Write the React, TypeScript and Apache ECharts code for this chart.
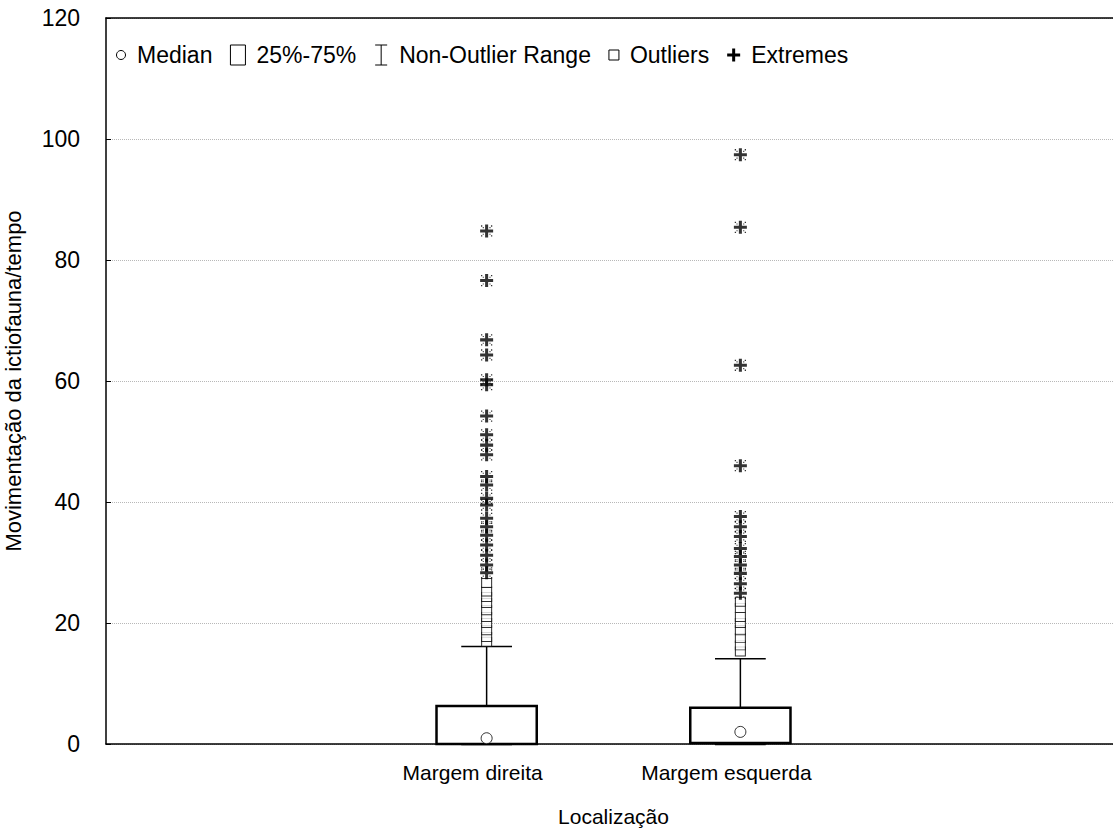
import React, { useEffect, useRef } from "react";
import * as echarts from "echarts";

const categories = ["", "Margem direita", "Margem esquerda", ""];
const yTicks = [0, 20, 40, 60, 80, 100, 120];
const lowWhisker = [0, 0];
const q1 = [0, 0.15];
const median = [0.95, 2.0];
const q3 = [6.3, 6.0];
const highWhisker = [16.1, 14.1];
const outliersDireita = [16.9, 17.7, 18.8, 20.0, 21.0, 22.1, 23.3, 24.3, 25.2, 26.6];
const extremesDireita = [28.3, 29.6, 31.2, 32.9, 34.5, 35.9, 37.3, 39.5, 40.6, 42.8, 44.2, 47.8, 49.4, 51.1, 54.2, 59.4, 60.2, 64.3, 66.8, 76.6, 84.8];
const outliersEsquerda = [15.3, 16.3, 17.5, 18.8, 20.0, 21.0, 22.5, 23.5];
const extremesEsquerda = [24.9, 26.5, 28.2, 29.6, 31.0, 32.3, 34.3, 35.9, 37.6, 46.0, 62.6, 85.4, 97.4];
const legendItems = ["Median", "25%-75%", "Non-Outlier Range", "Outliers", "Extremes"];

const FONT = '"Liberation Sans", Arial, sans-serif';
const STAR =
  "path://M4.6,0h2.8v4.6h4.6v2.8h-4.6v4.6h-2.8v-4.6h-4.6v-2.8h4.6z M0.8,0.8h1.2v1.2h-1.2z M10,0.8h1.2v1.2h-1.2z M0.8,10h1.2v1.2h-1.2z M10,10h1.2v1.2h-1.2z M2.4,2.4h1v1h-1z M8.6,2.4h1v1h-1z M2.4,8.6h1v1h-1z M8.6,8.6h1v1h-1z";

function measure(text: string, size: number): number {
  const c = document.createElement("canvas").getContext("2d");
  if (!c) return text.length * size * 0.5;
  c.font = `${size}px ${FONT}`;
  return c.measureText(text).width;
}

function buildLegend(): any[] {
  const fs = 23;
  const cy = 55;
  let x = 116;
  const els: any[] = [];
  const symW = [10, 15, 14, 10, 13];
  legendItems.forEach((label, i) => {
    const w = symW[i];
    if (i === 0) {
      els.push({ type: "circle", shape: { cx: x + 5, cy, r: 4.5 }, style: { fill: "#fff", stroke: "#000", lineWidth: 1 } });
    } else if (i === 1) {
      els.push({ type: "rect", shape: { x, y: cy - 10, width: 15, height: 20 }, style: { fill: "#fff", stroke: "#000", lineWidth: 1 } });
    } else if (i === 2) {
      els.push({ type: "line", shape: { x1: x + 7, y1: cy - 10, x2: x + 7, y2: cy + 10 }, style: { stroke: "#000", lineWidth: 1 } });
      els.push({ type: "line", shape: { x1: x + 1, y1: cy - 10, x2: x + 13, y2: cy - 10 }, style: { stroke: "#000", lineWidth: 1 } });
      els.push({ type: "line", shape: { x1: x + 1, y1: cy + 10, x2: x + 13, y2: cy + 10 }, style: { stroke: "#000", lineWidth: 1 } });
    } else if (i === 3) {
      els.push({ type: "rect", shape: { x, y: cy - 5, width: 10, height: 10 }, style: { fill: "#fff", stroke: "#000", lineWidth: 1 } });
    } else {
      els.push({ type: "rect", shape: { x: x + 5, y: cy - 6.5, width: 3, height: 13 }, style: { fill: "#000" } });
      els.push({ type: "rect", shape: { x, y: cy - 1.5, width: 13, height: 3 }, style: { fill: "#000" } });
    }
    x += w + 11;
    els.push({ type: "text", x, y: cy, style: { text: label, font: `${fs}px ${FONT}`, fill: "#000", verticalAlign: "middle", align: "left" } });
    x += measure(label, fs) + 18;
  });
  return els;
}

export default function App() {
  const ref = useRef<HTMLDivElement>(null);
  useEffect(() => {
    document.body.style.margin = "0";
    if (!ref.current) return;
    const chart = echarts.init(ref.current, undefined, { renderer: "svg" });
    const boxData = [1, 2].map((c, i) => [c, lowWhisker[i], q1[i], median[i], q3[i], highWhisker[i]]);
    const scatterStyle = { color: "#fff", borderColor: "#000", borderWidth: 1 };
    const option: any = {
      animation: false,
      backgroundColor: "#fff",
      textStyle: { fontFamily: FONT },
      grid: { left: 106, right: -8, top: 18, bottom: 85, outerBoundsMode: "none", containLabel: false },
      xAxis: [
        {
          type: "category",
          data: categories,
          boundaryGap: true,
          position: "bottom",
          axisLine: { lineStyle: { color: "#000", width: 1.5 } },
          axisTick: { inside: true, alignWithLabel: true, length: 5, lineStyle: { color: "#000" } },
          axisLabel: { color: "#000", fontSize: 21, margin: 18, fontFamily: FONT, padding: [0, 28, 0, 0] },
          name: "Localização",
          nameLocation: "middle",
          nameGap: 62,
          nameTextStyle: { color: "#000", fontSize: 21, fontFamily: FONT },
          splitLine: { show: false },
        },
        {
          type: "category",
          data: categories,
          boundaryGap: true,
          position: "top",
          axisLine: { lineStyle: { color: "#000", width: 1.5 } },
          axisTick: { inside: true, alignWithLabel: true, length: 5, lineStyle: { color: "#000" } },
          axisLabel: { show: false },
          splitLine: { show: false },
        },
      ],
      yAxis: {
        type: "value",
        min: yTicks[0],
        max: yTicks[yTicks.length - 1],
        interval: 20,
        axisLine: { show: true, lineStyle: { color: "#000", width: 1.5 } },
        axisTick: { show: true, inside: true, length: 5, lineStyle: { color: "#000" } },
        axisLabel: { color: "#000", fontSize: 23, margin: 26, fontFamily: FONT },
        splitLine: { show: true, lineStyle: { color: "#b8b8b8", type: "dotted", width: 1 } },
        name: "Movimentação da ictiofauna/tempo",
        nameLocation: "middle",
        nameGap: 82,
        nameTextStyle: { color: "#000", fontSize: 22, fontFamily: FONT },
      },
      graphic: buildLegend(),
      series: [
        {
          type: "custom",
          xAxisIndex: 0,
          data: boxData,
          encode: { x: 0, y: [1, 2, 3, 4, 5] },
          z: 3,
          renderItem: (params: any, api: any) => {
            const xv = api.value(0);
            const low = api.coord([xv, api.value(1)]);
            const b = api.coord([xv, api.value(2)]);
            const t = api.coord([xv, api.value(4)]);
            const high = api.coord([xv, api.value(5)]);
            const band = api.size([1, 0])[0];
            const bw = band * 0.395;
            const cw = band * 0.1;
            const cx = t[0];
            return {
              type: "group",
              children: [
                { type: "line", shape: { x1: cx, y1: t[1], x2: cx, y2: high[1] }, style: { stroke: "#000", lineWidth: 1.5 } },
                { type: "line", shape: { x1: cx - cw, y1: high[1], x2: cx + cw, y2: high[1] }, style: { stroke: "#000", lineWidth: 1.5 } },
                { type: "line", shape: { x1: cx, y1: b[1], x2: cx, y2: low[1] }, style: { stroke: "#000", lineWidth: 1.5 } },
                { type: "line", shape: { x1: cx - cw, y1: low[1], x2: cx + cw, y2: low[1] }, style: { stroke: "#000", lineWidth: 2.5 } },
                { type: "rect", shape: { x: cx - bw / 2, y: t[1], width: bw, height: b[1] - t[1] }, style: { fill: "#fff", stroke: "#000", lineWidth: 2.5 } },
              ],
            };
          },
        },
        {
          type: "scatter",
          name: "Outliers",
          symbol: "rect",
          symbolSize: [10, 9],
          itemStyle: scatterStyle,
          z: 4,
          data: [
            ...outliersDireita.map((v) => [1, v]),
            ...outliersEsquerda.map((v) => [2, v]),
          ],
        },
        {
          type: "scatter",
          name: "Extremes",
          symbol: STAR,
          symbolSize: 13,
          itemStyle: { color: "#000" },
          z: 5,
          data: [
            ...extremesDireita.map((v) => [1, v]),
            ...extremesEsquerda.map((v) => [2, v]),
          ],
        },
        {
          type: "scatter",
          name: "Median",
          symbol: "circle",
          symbolSize: 11,
          itemStyle: scatterStyle,
          z: 6,
          data: median.map((v, i) => [i + 1, v]),
        },
      ],
    };
    chart.setOption(option);
    return () => chart.dispose();
  }, []);
  return <div ref={ref} style={{ width: 1113, height: 829 }} />;
}
